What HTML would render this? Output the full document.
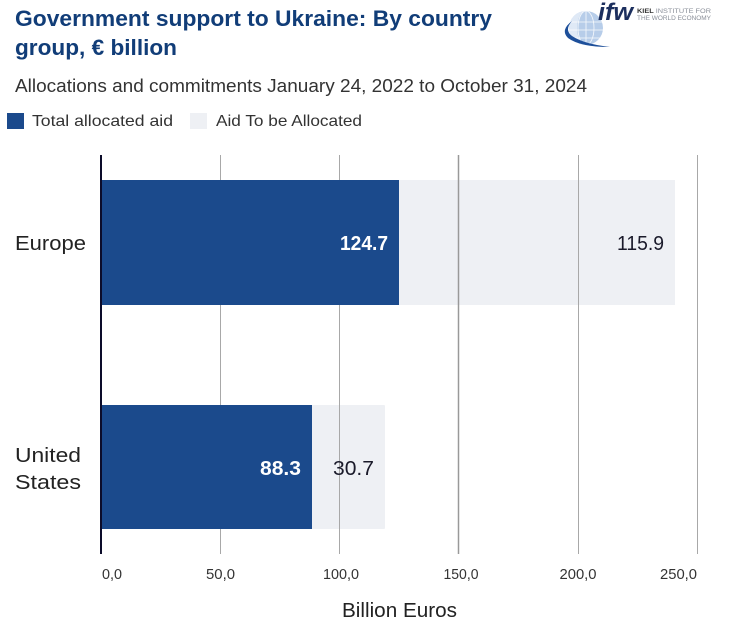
<!DOCTYPE html>
<html>
<head>
<meta charset="utf-8">
<style>
html,body{margin:0;padding:0;background:#fff;}
body{width:740px;height:627px;overflow:hidden;}
svg{display:block;}
text{font-family:"Liberation Sans",sans-serif;}
</style>
</head>
<body>
<svg width="740" height="627" viewBox="0 0 740 627" xmlns="http://www.w3.org/2000/svg">
  <!-- Title -->
  <text x="15" y="26" font-size="22" font-weight="bold" fill="#113d78" textLength="477" lengthAdjust="spacingAndGlyphs">Government support to Ukraine: By country</text>
  <text x="15" y="55" font-size="22" font-weight="bold" fill="#113d78" textLength="162" lengthAdjust="spacingAndGlyphs">group, € billion</text>
  <!-- Subtitle -->
  <text x="15" y="92" font-size="18" fill="#333" textLength="572" lengthAdjust="spacingAndGlyphs">Allocations and commitments January 24, 2022 to October 31, 2024</text>

  <!-- Legend -->
  <rect x="7" y="113" width="17" height="16" fill="#1b4a8c"/>
  <text x="32" y="126" font-size="16" fill="#333" textLength="141" lengthAdjust="spacingAndGlyphs">Total allocated aid</text>
  <rect x="190" y="113" width="17" height="16" fill="#eef0f4"/>
  <text x="216" y="126" font-size="16" fill="#333" textLength="146" lengthAdjust="spacingAndGlyphs">Aid To be Allocated</text>

  <!-- Logo -->
  <g>
    <circle cx="586" cy="28" r="17" fill="#b7cde9"/>
    <path d="M586 11 A17 17 0 0 0 586 45 A9 17 0 0 1 586 11Z" fill="#dfe9f6"/>
    <g stroke="#ffffff" stroke-width="0.8" fill="none" opacity="0.9">
      <ellipse cx="586" cy="28" rx="8" ry="17"/>
      <line x1="586" y1="11" x2="586" y2="45"/>
      <line x1="570" y1="22" x2="602" y2="22"/>
      <line x1="569" y1="30" x2="603" y2="30"/>
      <line x1="571" y1="38" x2="601" y2="38"/>
    </g>
    <path d="M572 21 Q560 30 568 38 Q580 47 610 47 Q584 44 572 36 Q564 30 572 21Z" fill="#1d4f9a"/>
    <text x="598" y="20" font-family="Liberation Serif,serif" font-size="24" font-style="italic" font-weight="bold" fill="#1c2f5e" textLength="35" lengthAdjust="spacingAndGlyphs">ifw</text>
    <text x="637" y="13" font-size="6.5" fill="#8a8f99" textLength="74" lengthAdjust="spacingAndGlyphs"><tspan font-weight="bold" fill="#333">KIEL</tspan> INSTITUTE FOR</text>
    <text x="637" y="20" font-size="6.5" fill="#8a8f99" textLength="74" lengthAdjust="spacingAndGlyphs">THE WORLD ECONOMY</text>
  </g>

  <!-- Bars -->
  <rect x="101" y="180" width="574" height="125" fill="#eef0f4"/>
  <rect x="101" y="180" width="298" height="125" fill="#1b4a8c"/>
  <rect x="101" y="405" width="284" height="124" rx="1" fill="#eef0f4"/>
  <rect x="101" y="405" width="211" height="124" fill="#1b4a8c"/>

  <!-- Gridlines -->
  <g stroke="#a8a8a8" stroke-width="1">
    <line x1="220.5" y1="155" x2="220.5" y2="554"/>
    <line x1="339.5" y1="155" x2="339.5" y2="554"/>
    <line x1="458.5" y1="155" x2="458.5" y2="554" stroke="#999" stroke-width="1.5"/>
    <line x1="578.5" y1="155" x2="578.5" y2="554"/>
    <line x1="697.5" y1="155" x2="697.5" y2="554"/>
  </g>
  <!-- blue bars drawn above gridlines -->
  <rect x="101" y="180" width="298" height="125" fill="#1b4a8c"/>
  <rect x="101" y="405" width="211" height="124" fill="#1b4a8c"/>
  <!-- Axis line -->
  <line x1="101" y1="155" x2="101" y2="554" stroke="#0c0c2a" stroke-width="2"/>

  <!-- Category labels -->
  <text x="15" y="250" font-size="20" fill="#222" textLength="71" lengthAdjust="spacingAndGlyphs">Europe</text>
  <text x="15" y="462" font-size="20" fill="#222" textLength="66" lengthAdjust="spacingAndGlyphs">United</text>
  <text x="15" y="489" font-size="20" fill="#222" textLength="66" lengthAdjust="spacingAndGlyphs">States</text>

  <!-- Value labels -->
  <text x="388" y="250" font-size="20" font-weight="bold" fill="#fff" text-anchor="end" textLength="48" lengthAdjust="spacingAndGlyphs">124.7</text>
  <text x="664" y="250" font-size="20" fill="#1a1a2a" text-anchor="end" textLength="47" lengthAdjust="spacingAndGlyphs">115.9</text>
  <text x="301" y="475" font-size="20" font-weight="bold" fill="#fff" text-anchor="end" textLength="41" lengthAdjust="spacingAndGlyphs">88.3</text>
  <text x="374" y="475" font-size="20" fill="#1a1a2a" text-anchor="end" textLength="41" lengthAdjust="spacingAndGlyphs">30.7</text>

  <!-- Tick labels -->
  <g font-size="14.5" fill="#333">
    <text x="102" y="579" textLength="20" lengthAdjust="spacingAndGlyphs">0,0</text>
    <text x="220.5" y="579" text-anchor="middle" textLength="29" lengthAdjust="spacingAndGlyphs">50,0</text>
    <text x="341" y="579" text-anchor="middle" textLength="36" lengthAdjust="spacingAndGlyphs">100,0</text>
    <text x="461" y="579" text-anchor="middle" textLength="35" lengthAdjust="spacingAndGlyphs">150,0</text>
    <text x="578" y="579" text-anchor="middle" textLength="37" lengthAdjust="spacingAndGlyphs">200,0</text>
    <text x="697" y="579" text-anchor="end" textLength="37" lengthAdjust="spacingAndGlyphs">250,0</text>
  </g>
  <text x="342" y="617" font-size="20" fill="#222" textLength="115" lengthAdjust="spacingAndGlyphs">Billion Euros</text>
</svg>
</body>
</html>
